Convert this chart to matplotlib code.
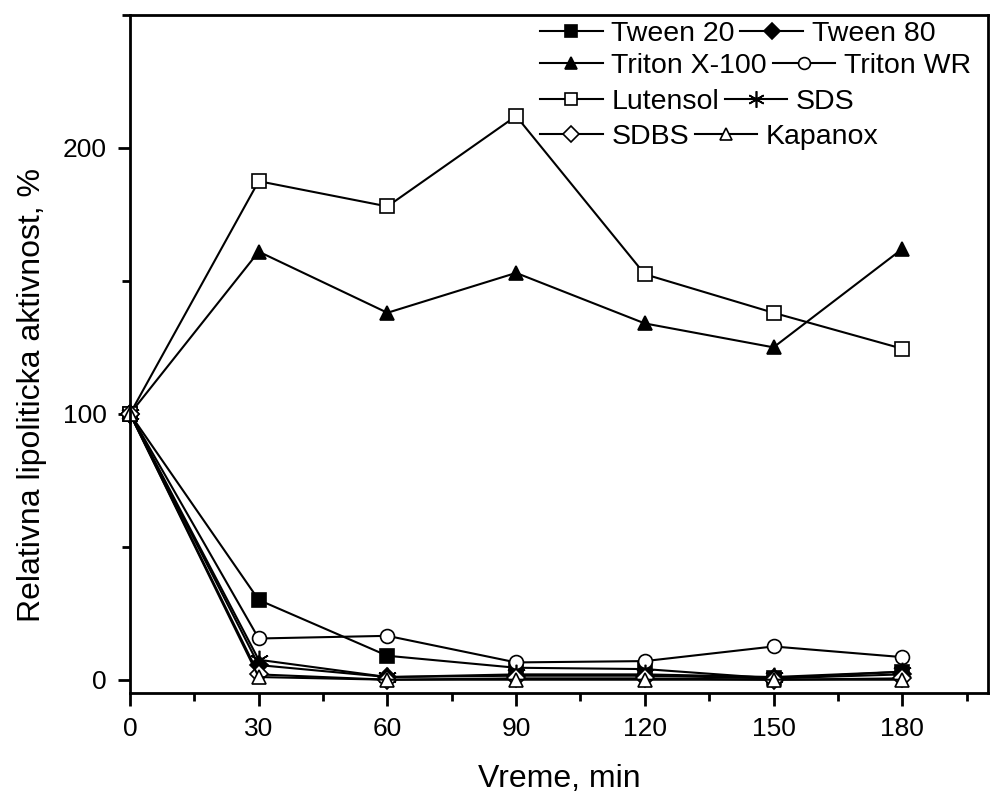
import matplotlib
matplotlib.use("Agg")
import matplotlib.pyplot as plt
from matplotlib.ticker import MultipleLocator

plt.rcParams["font.family"] = ["Liberation Sans", "DejaVu Sans"]

# Data
time = [0, 30, 60, 90, 120, 150, 180]
tween20 = [100, 30, 9, 4.5, 4, 0.5, 3]
tween80 = [100, 5.5, 1, 1.5, 1.5, 0.5, 2]
triton_x100 = [100, 161, 138, 153, 134, 125, 162]
triton_wr = [100, 15.5, 16.5, 6.5, 7, 12.5, 8.5]
lutensol = [100, 187.5, 178, 212, 152.5, 138, 124.5]
sds = [100, 7.5, 1, 2, 2, 1, 3]
sdbs = [100, 2, 0, 0.5, 0.5, 0, 0.5]
kapanox = [100, 1, 0, 0, 0, 0, 0]

series = [
    ("Tween 20", tween20, "s", "black"),
    ("Tween 80", tween80, "D", "black"),
    ("Triton X-100", triton_x100, "^", "black"),
    ("Triton WR", triton_wr, "o", "white"),
    ("Lutensol", lutensol, "s", "white"),
    ("SDS", sds, "*", "none"),
    ("SDBS", sdbs, "D", "white"),
    ("Kapanox", kapanox, "^", "white"),
]

fig = plt.figure(figsize=(9.9, 7.94), dpi=100)
ax = fig.add_axes([130 / 990, 101 / 794, 858 / 990, 678 / 794])

handles = []
for name, vals, mk, fc in series:
    if mk == "*":
        h, = ax.plot(time, vals, color="black", lw=1.5, marker=(6, 2, 0), ms=14,
                     mew=1.2, label=name, clip_on=False)
    else:
        ms = 10 if mk != "D" else 9
        h, = ax.plot(time, vals, color="black", lw=1.5, marker=mk, ms=ms,
                     mfc=fc, mec="black", mew=1.2, label=name, clip_on=False)
    handles.append(h)

ax.set_xlim(0, 200)
ax.set_ylim(-5, 250)
ax.set_xticks([0, 30, 60, 90, 120, 150, 180])
ax.xaxis.set_minor_locator(MultipleLocator(15))
ax.set_yticks([0, 100, 200])
ax.yaxis.set_minor_locator(MultipleLocator(50))
ax.tick_params(which="major", direction="out", length=9, width=2, labelsize=19, pad=8)
ax.tick_params(which="minor", direction="out", length=6, width=2)
for s in ax.spines.values():
    s.set_linewidth(2)

ax.set_xlabel("Vreme, min", fontsize=23, labelpad=17)
ax.set_ylabel("Relativna lipoliticka aktivnost, %", fontsize=23)
ax.yaxis.set_label_coords(-0.097, 0.44)

# legend: two entries per row, rows laid out like the original
row_y = [34, 66, 102, 137]
for i, y in enumerate(row_y):
    leg = ax.legend(handles=handles[2 * i:2 * i + 2], ncol=2, loc="center left",
                    bbox_to_anchor=(540 / 990, 1 - y / 794),
                    bbox_transform=fig.transFigure, frameon=False, fontsize=20.5,
                    handlelength=2.2, handletextpad=0.3, columnspacing=0.2,
                    borderpad=0, borderaxespad=0, markerscale=0.85)
    if i < len(row_y) - 1:
        ax.add_artist(leg)

fig.savefig("out.png", dpi=100)
